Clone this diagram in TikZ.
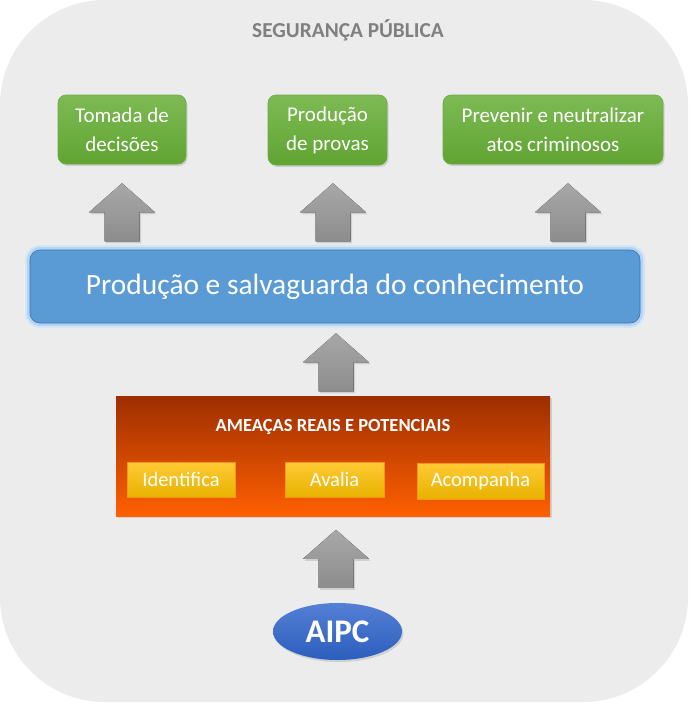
\documentclass[tikz,border=0pt]{standalone}
\usepackage{fontspec}
\setmainfont{Carlito}
\usetikzlibrary{positioning,shadows,shapes.geometric,calc}

\definecolor{bgfill}{RGB}{236,236,236}
\definecolor{titlegray}{RGB}{128,128,128}
\definecolor{greentop}{RGB}{126,186,84}
\definecolor{greenbot}{RGB}{96,164,50}
\definecolor{greenline}{RGB}{110,170,70}
\definecolor{bluefill}{RGB}{91,155,213}
\definecolor{blueline}{RGB}{65,113,156}
\definecolor{blueglow}{RGB}{180,212,245}
\definecolor{orangetop}{RGB}{158,46,0}
\definecolor{orangebot}{RGB}{255,96,0}
\definecolor{yellowtop}{RGB}{255,202,52}
\definecolor{yellowbot}{RGB}{232,178,0}
\definecolor{yellowline}{RGB}{245,150,20}
\definecolor{arrowtop}{RGB}{168,168,168}
\definecolor{arrowbot}{RGB}{140,140,140}
\definecolor{aipctop}{RGB}{84,128,212}
\definecolor{aipcbot}{RGB}{44,94,190}

\tikzset{
  softshadow/.style={drop shadow={opacity=0.25,shadow xshift=1.5pt,shadow yshift=-2pt}},
  greenbox/.style={rectangle, rounded corners=8pt, top color=greentop, bottom color=greenbot,
    draw=greenline, line width=0.6pt, softshadow, text=white, align=center, inner sep=0pt,
    font=\fontsize{21}{29}\selectfont},
  yellowbox/.style={rectangle, top color=yellowtop, bottom color=yellowbot, draw=yellowline,
    line width=0.8pt, text=white, inner sep=0pt, minimum height=35pt,
    font=\fontsize{20.5}{24}\selectfont},
  uparrow/.pic={
    \fill[top color=arrowtop, bottom color=arrowbot, softshadow]
      (0,0) -- (33,29) -- (17.5,29) -- (17.5,58) -- (-17.5,58) -- (-17.5,29) -- (-33,29) -- cycle;
  }
}

\begin{document}
\begin{tikzpicture}[x=1pt,y=-1pt]
  \useasboundingbox (0,0) rectangle (689,704);
  \fill[white] (0,0) rectangle (689,704);

  % Background panel
  \fill[bgfill, rounded corners=105pt] (0,0) rectangle (688,702);
  \node[text=titlegray, font=\bfseries\fontsize{21.3}{24}\selectfont] (seg) at (348,30) {SEGURANÇA PÚBLICA};

  % Outcomes
  \node[greenbox, minimum width=128pt, minimum height=69pt] (dec) at (122,129.5) {Tomada de\\decisões};
  \node[greenbox, minimum width=119pt, minimum height=70pt] (prov) at (327.5,130) {Produção\\de provas};
  \node[greenbox, minimum width=220pt, minimum height=69pt] (prev) at (553,129.5) {Prevenir e neutralizar\\atos criminosos};

  % Knowledge
  \node[rectangle, rounded corners=10pt, fill=bluefill, draw=blueline, line width=0.6pt,
        preaction={draw=blueglow!60, line width=10pt},
        preaction={draw=blueglow, line width=6pt},
        minimum width=610pt, minimum height=73pt, inner sep=0pt, text=white,
        font=\fontsize{29.4}{32}\selectfont] (know) at (335,286.5) {\raisebox{4pt}{Produção e salvaguarda do conhecimento}};

  % Threats
  \node[rectangle, top color=orangetop, bottom color=orangebot, softshadow,
        minimum width=434pt, minimum height=120pt, inner sep=0pt] (thr) at (333,456) {};
  \node[text=white, font=\bfseries\fontsize{18.5}{21}\selectfont, below=20pt of thr.north] (thrt) {AMEAÇAS REAIS E POTENCIAIS};
  \node[yellowbox, minimum width=108pt] (ident) at (181,479.5) {Identifica};
  \node[yellowbox, minimum width=99pt] (aval) at (334.5,479.5) {Avalia};
  \node[yellowbox, minimum width=127pt, minimum height=36pt] (acomp) at (480.5,481) {Acompanha};

  % Source
  \node[ellipse, top color=aipctop, bottom color=aipcbot, softshadow, minimum width=129pt,
        minimum height=57pt, inner sep=0pt, text=white,
        font=\bfseries\fontsize{33}{36}\selectfont] (aipc) at (337.5,631.5) {AIPC};

  % Block arrows
  \pic at ($(dec.south)+(0,19)$) {uparrow};
  \pic at ($(prov.south)+(5.5,18)$) {uparrow};
  \pic at ($(prev.south)+(15,19)$) {uparrow};
  \pic at ($(know.south)+(1,10)$) {uparrow};
  \pic at ($(aipc.north)+(-1.5,-73)$) {uparrow};
\end{tikzpicture}
\end{document}
